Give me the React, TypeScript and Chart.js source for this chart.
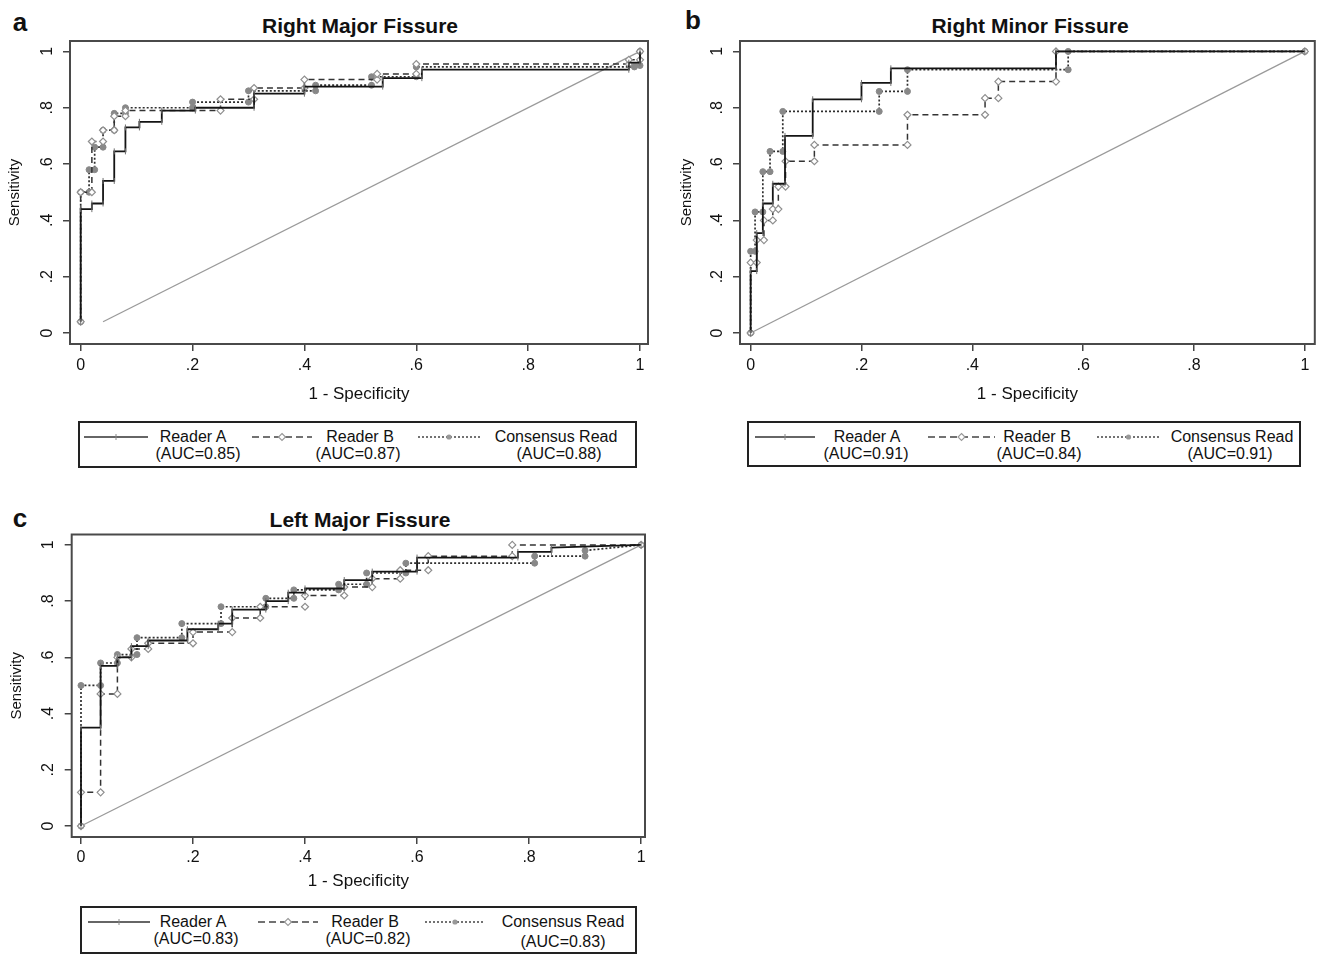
import React, { useEffect, useRef } from "react";
import { Chart, registerables } from "chart.js";

Chart.register(...registerables);

const FONT = '"Liberation Sans", Arial, Helvetica, sans-serif';

// ---------- shared axis data ----------
const tickValues = [0, 0.2, 0.4, 0.6, 0.8, 1];
const tickLabels = ["0", ".2", ".4", ".6", ".8", "1"];
const seriesNames = ["Reader A", "Reader B", "Consensus Read"];
const xAxisTitle = "1 - Specificity";
const yAxisTitle = "Sensitivity";

// ---------- panel a: Right Major Fissure ----------
const aTitle = "Right Major Fissure";
const aAUC = ["0.85", "0.87", "0.88"];
const aReaderAX = [0, 0, 0.02, 0.02, 0.04, 0.04, 0.06, 0.06, 0.08, 0.08, 0.105, 0.105, 0.145, 0.145, 0.205, 0.205, 0.31, 0.31, 0.4, 0.4, 0.54, 0.54, 0.61, 0.61, 0.98, 0.98, 1, 1];
const aReaderAY = [0.04, 0.44, 0.44, 0.46, 0.46, 0.54, 0.54, 0.645, 0.645, 0.73, 0.73, 0.75, 0.75, 0.79, 0.79, 0.8, 0.8, 0.85, 0.85, 0.875, 0.875, 0.905, 0.905, 0.935, 0.935, 0.96, 0.96, 1];
const aReaderBX = [0, 0, 0.02, 0.02, 0.04, 0.04, 0.06, 0.06, 0.08, 0.08, 0.25, 0.25, 0.31, 0.31, 0.4, 0.4, 0.53, 0.53, 0.6, 0.6, 0.98, 0.98, 1, 1];
const aReaderBY = [0.04, 0.5, 0.5, 0.68, 0.68, 0.72, 0.72, 0.77, 0.77, 0.79, 0.79, 0.83, 0.83, 0.87, 0.87, 0.9, 0.9, 0.92, 0.92, 0.955, 0.955, 0.97, 0.97, 1];
const aConsX = [0, 0, 0.015, 0.015, 0.025, 0.025, 0.04, 0.04, 0.06, 0.06, 0.08, 0.08, 0.2, 0.2, 0.3, 0.3, 0.42, 0.42, 0.52, 0.52, 0.6, 0.6, 0.99, 0.99, 1, 1];
const aConsY = [0.04, 0.5, 0.5, 0.58, 0.58, 0.66, 0.66, 0.72, 0.72, 0.78, 0.78, 0.8, 0.8, 0.82, 0.82, 0.86, 0.86, 0.88, 0.88, 0.91, 0.91, 0.945, 0.945, 0.95, 0.95, 1];
const aDiagX = [0.04, 1];
const aDiagY = [0.04, 1];

// ---------- panel b: Right Minor Fissure ----------
const bTitle = "Right Minor Fissure";
const bAUC = ["0.91", "0.84", "0.91"];
const bReaderAX = [0, 0, 0.011, 0.011, 0.022, 0.022, 0.04, 0.04, 0.062, 0.062, 0.112, 0.112, 0.2, 0.2, 0.253, 0.253, 0.551, 0.551, 1];
const bReaderAY = [0, 0.22, 0.22, 0.355, 0.355, 0.46, 0.46, 0.53, 0.53, 0.7, 0.7, 0.83, 0.83, 0.888, 0.888, 0.94, 0.94, 1, 1];
const bReaderBX = [0, 0, 0.011, 0.011, 0.024, 0.024, 0.04, 0.04, 0.05, 0.05, 0.063, 0.063, 0.115, 0.115, 0.283, 0.283, 0.423, 0.423, 0.447, 0.447, 0.551, 0.551, 1];
const bReaderBY = [0, 0.25, 0.25, 0.33, 0.33, 0.4, 0.4, 0.44, 0.44, 0.52, 0.52, 0.61, 0.61, 0.668, 0.668, 0.775, 0.775, 0.834, 0.834, 0.893, 0.893, 1, 1];
const bConsX = [0, 0, 0.008, 0.008, 0.022, 0.022, 0.035, 0.035, 0.058, 0.058, 0.232, 0.232, 0.283, 0.283, 0.573, 0.573, 1];
const bConsY = [0, 0.29, 0.29, 0.43, 0.43, 0.573, 0.573, 0.645, 0.645, 0.787, 0.787, 0.858, 0.858, 0.935, 0.935, 1, 1];
const bDiagX = [0, 1];
const bDiagY = [0, 1];

// ---------- panel c: Left Major Fissure ----------
const cTitle = "Left Major Fissure";
const cAUC = ["0.83", "0.82", "0.83"];
const cReaderAX = [0, 0, 0.035, 0.035, 0.065, 0.065, 0.09, 0.09, 0.12, 0.12, 0.19, 0.19, 0.245, 0.245, 0.27, 0.27, 0.33, 0.33, 0.37, 0.37, 0.4, 0.4, 0.47, 0.47, 0.52, 0.52, 0.6, 0.6, 0.78, 0.78, 0.84, 0.84, 1];
const cReaderAY = [0, 0.35, 0.35, 0.57, 0.57, 0.6, 0.6, 0.64, 0.64, 0.66, 0.66, 0.7, 0.7, 0.72, 0.72, 0.77, 0.77, 0.8, 0.8, 0.83, 0.83, 0.845, 0.845, 0.875, 0.875, 0.905, 0.905, 0.955, 0.955, 0.975, 0.975, 0.99, 1];
const cReaderBX = [0, 0, 0.035, 0.035, 0.065, 0.065, 0.09, 0.09, 0.12, 0.12, 0.2, 0.2, 0.27, 0.27, 0.32, 0.32, 0.4, 0.4, 0.47, 0.47, 0.52, 0.52, 0.57, 0.57, 0.62, 0.62, 0.77, 0.77, 1];
const cReaderBY = [0, 0.12, 0.12, 0.47, 0.47, 0.6, 0.6, 0.63, 0.63, 0.65, 0.65, 0.69, 0.69, 0.74, 0.74, 0.78, 0.78, 0.82, 0.82, 0.85, 0.85, 0.88, 0.88, 0.91, 0.91, 0.96, 0.96, 1, 1];
const cConsX = [0, 0, 0.035, 0.035, 0.065, 0.065, 0.1, 0.1, 0.18, 0.18, 0.25, 0.25, 0.33, 0.33, 0.38, 0.38, 0.46, 0.46, 0.51, 0.51, 0.58, 0.58, 0.81, 0.81, 0.9, 0.9, 1];
const cConsY = [0, 0.5, 0.5, 0.58, 0.58, 0.61, 0.61, 0.67, 0.67, 0.72, 0.72, 0.78, 0.78, 0.81, 0.81, 0.84, 0.84, 0.86, 0.86, 0.9, 0.9, 0.935, 0.935, 0.96, 0.96, 0.98, 1];
const cDiagX = [0, 1];
const cDiagY = [0, 1];

const pts = (xs: number[], ys: number[]) => xs.map((x, i) => ({ x, y: ys[i] }));

const frameAndLabels = {
  id: "frameAndLabels",
  afterDraw(chart: any) {
    const { ctx, chartArea } = chart;
    const opts = chart.options.plugins.frameAndLabels || {};
    const ys = chart.scales.y;
    ctx.save();
    ctx.strokeStyle = "#4a4a4a";
    ctx.lineWidth = 2;
    ctx.strokeRect(chartArea.left, chartArea.top, chartArea.right - chartArea.left, chartArea.bottom - chartArea.top);
    ctx.fillStyle = "#111";
    ctx.font = `16px ${FONT}`;
    ctx.textAlign = "center";
    ctx.textBaseline = "middle";
    ys.ticks.forEach((t: any, i: number) => {
      const py = ys.getPixelForValue(t.value);
      ctx.save();
      ctx.translate(chartArea.left - (opts.labelOffset || 22), py);
      ctx.rotate(-Math.PI / 2);
      ctx.fillText(tickLabels[i], 0, 0);
      ctx.restore();
    });
    ctx.restore();
  },
};

type RocProps = {
  left: number; top: number; width: number; height: number;
  padTop: number; padRight: number; yAxisWidth: number; xAxisHeight: number;
  xMin: number; xMax: number; yMin: number; yMax: number;
  xTickPad: number; xTitlePad: number; yTitlePad: number; yLabelOffset: number;
  rA: [number[], number[]]; rB: [number[], number[]]; cons: [number[], number[]]; diag: [number[], number[]];
};

function RocChart(p: RocProps) {
  const ref = useRef<HTMLCanvasElement>(null);
  useEffect(() => {
    const chart = new Chart(ref.current as HTMLCanvasElement, {
      type: "scatter",
      data: {
        datasets: [
          {
            label: seriesNames[0],
            data: pts(p.rA[0], p.rA[1]),
            showLine: true,
            borderColor: "#141414",
            borderWidth: 1.8,
            pointStyle: "line",
            pointRotation: 90,
            pointRadius: 3,
            pointBorderColor: "#707070",
            pointBackgroundColor: "#707070",
            pointBorderWidth: 1,
          } as any,
          {
            label: seriesNames[1],
            data: pts(p.rB[0], p.rB[1]),
            showLine: true,
            borderColor: "#333333",
            borderWidth: 1.5,
            borderDash: [6, 4],
            pointStyle: "rectRot",
            pointRadius: 3.5,
            pointBackgroundColor: "#ffffff",
            pointBorderColor: "#8f8f8f",
            pointBorderWidth: 1.2,
          } as any,
          {
            label: seriesNames[2],
            data: pts(p.cons[0], p.cons[1]),
            showLine: true,
            borderColor: "#2e2e2e",
            borderWidth: 1.7,
            borderDash: [2, 2],
            pointStyle: "circle",
            pointRadius: 3,
            pointBackgroundColor: "#888888",
            pointBorderColor: "#888888",
            pointBorderWidth: 1,
          } as any,
          {
            label: "Reference",
            data: pts(p.diag[0], p.diag[1]),
            showLine: true,
            borderColor: "#9a9a9a",
            borderWidth: 1.3,
            pointRadius: 0,
          } as any,
        ],
      },
      options: {
        responsive: false,
        animation: false,
        events: [],
        layout: { padding: { left: 0, top: p.padTop, right: p.padRight, bottom: 0 } },
        plugins: {
          legend: { display: false },
          title: { display: false },
          tooltip: { enabled: false },
          frameAndLabels: { labelOffset: p.yLabelOffset },
        } as any,
        scales: {
          x: {
            type: "linear",
            min: p.xMin,
            max: p.xMax,
            afterBuildTicks: (s: any) => { s.ticks = tickValues.map((v) => ({ value: v })); },
            afterFit: (s: any) => { s.height = p.xAxisHeight; },
            border: { display: false },
            grid: { drawOnChartArea: false, drawTicks: true, tickLength: 7, color: "#444", lineWidth: 1.5 },
            ticks: {
              autoSkip: false,
              maxRotation: 0,
              padding: p.xTickPad,
              color: "#111",
              font: { family: FONT, size: 16 },
              callback: (_v: any, i: number) => tickLabels[i],
            },
            title: {
              display: true,
              text: xAxisTitle,
              color: "#111",
              font: { family: FONT, size: 17 },
              padding: { top: 0, bottom: p.xTitlePad },
            },
          } as any,
          y: {
            type: "linear",
            min: p.yMin,
            max: p.yMax,
            afterBuildTicks: (s: any) => { s.ticks = tickValues.map((v) => ({ value: v })); },
            afterFit: (s: any) => { s.width = p.yAxisWidth; },
            border: { display: false },
            grid: { drawOnChartArea: false, drawTicks: true, tickLength: 7, color: "#444", lineWidth: 1.5 },
            ticks: { display: false },
            title: {
              display: true,
              text: yAxisTitle,
              color: "#111",
              font: { family: FONT, size: 15 },
              padding: { top: p.yTitlePad, bottom: 0 },
            },
          } as any,
        },
      },
      plugins: [frameAndLabels as any],
    });
    return () => chart.destroy();
  }, []);
  return (
    <canvas
      ref={ref}
      width={p.width}
      height={p.height}
      style={{ position: "absolute", left: p.left, top: p.top, width: p.width, height: p.height }}
    />
  );
}

type LegendCol = { s: [number, number]; t: number; a: number; ay?: number };

function LegendBox({ left, top, width, height, aucs, cols }: { left: number; top: number; width: number; height: number; aucs: string[]; cols: LegendCol[] }) {
  const r1 = 16;
  const r2 = 33;
  return (
    <div style={{ position: "absolute", left, top, width, height, border: "2px solid #222", boxSizing: "border-box", background: "#fff" }}>
      <svg width={width} height={height} style={{ position: "absolute", left: -2, top: -2 }}>
        {cols.map((c, i) => {
          const [x1, x2] = c.s;
          const mx = (x1 + x2) / 2;
          return (
            <g key={i}>
              <line
                x1={x1} x2={x2} y1={r1} y2={r1}
                stroke={i === 0 ? "#333" : "#444"}
                strokeWidth={1.3}
                strokeDasharray={i === 0 ? undefined : i === 1 ? "7 4" : "2 2"}
              />
              {i === 0 && <line x1={mx} x2={mx} y1={r1 - 3} y2={r1 + 3} stroke="#888" strokeWidth={1} />}
              {i === 1 && <polygon points={`${mx},${r1 - 3.5} ${mx + 3.5},${r1} ${mx},${r1 + 3.5} ${mx - 3.5},${r1}`} fill="#fff" stroke="#999" strokeWidth={1.1} />}
              {i === 2 && <circle cx={mx} cy={r1} r={2.6} fill="#999" />}
            </g>
          );
        })}
      </svg>
      {cols.map((c, i) => (
        <React.Fragment key={i}>
          <div style={{ position: "absolute", left: c.t - 102, width: 200, top: r1 - 11, textAlign: "center", fontSize: 16, lineHeight: "18px", color: "#111", whiteSpace: "nowrap" }}>
            {seriesNames[i]}
          </div>
          <div style={{ position: "absolute", left: c.a - 102, width: 200, top: r2 + (c.ay || 0) - 11, textAlign: "center", fontSize: 16, lineHeight: "18px", color: "#111", whiteSpace: "nowrap" }}>
            {`(AUC=${aucs[i]})`}
          </div>
        </React.Fragment>
      ))}
    </div>
  );
}

function Label({ x, y, text, size, bold }: { x: number; y: number; text: string; size: number; bold?: boolean }) {
  return (
    <div
      style={{
        position: "absolute", left: x, top: y, transform: "translate(-50%, -50%)",
        fontSize: size, lineHeight: 1, fontWeight: bold ? 700 : 400, whiteSpace: "nowrap", color: "#111",
      }}
    >
      {text}
    </div>
  );
}

export default function App() {
  return (
    <div style={{ position: "absolute", left: 0, top: 0, width: 1321, height: 955, background: "#fff", overflow: "hidden", fontFamily: FONT }}>
      <Label x={20} y={22} text="a" size={26} bold />
      <Label x={693} y={20} text="b" size={26} bold />
      <Label x={20} y={518} text="c" size={26} bold />
      <Label x={360} y={25} text={aTitle} size={21} bold />
      <Label x={1030} y={25} text={bTitle} size={21} bold />
      <Label x={360} y={519} text={cTitle} size={21} bold />

      <RocChart
        left={0} top={0} width={660} height={410}
        padTop={41} padRight={12} yAxisWidth={70} xAxisHeight={66}
        xMin={-0.0191} xMax={1.0143} yMin={-0.039} yMax={1.037}
        xTickPad={5} xTitlePad={5} yTitlePad={6} yLabelOffset={22.5}
        rA={[aReaderAX, aReaderAY]} rB={[aReaderBX, aReaderBY]} cons={[aConsX, aConsY]} diag={[aDiagX, aDiagY]}
      />
      <RocChart
        left={668} top={0} width={652} height={410}
        padTop={41} padRight={2} yAxisWidth={72} xAxisHeight={66}
        xMin={-0.0192} xMax={1.018} yMin={-0.039} yMax={1.037}
        xTickPad={5} xTitlePad={5} yTitlePad={10} yLabelOffset={22}
        rA={[bReaderAX, bReaderAY]} rB={[bReaderBX, bReaderBY]} cons={[bConsX, bConsY]} diag={[bDiagX, bDiagY]}
      />
      <RocChart
        left={0} top={494} width={660} height={400}
        padTop={40.5} padRight={15} yAxisWidth={71.7} xAxisHeight={57}
        xMin={-0.0166} xMax={1.007} yMin={-0.039} yMax={1.037}
        xTickPad={4} xTitlePad={2} yTitlePad={8} yLabelOffset={23}
        rA={[cReaderAX, cReaderAY]} rB={[cReaderBX, cReaderBY]} cons={[cConsX, cConsY]} diag={[cDiagX, cDiagY]}
      />

      <LegendBox
        left={78} top={421} width={559} height={47} aucs={aAUC}
        cols={[{ s: [6, 70], t: 115, a: 120 }, { s: [174, 234], t: 282, a: 280 }, { s: [340, 402], t: 478, a: 481 }]}
      />
      <LegendBox
        left={747} top={421} width={554} height={46} aucs={bAUC}
        cols={[{ s: [8, 68], t: 120, a: 119 }, { s: [181, 248], t: 290, a: 292 }, { s: [350, 413], t: 485, a: 483 }]}
      />
      <LegendBox
        left={80} top={906} width={557} height={48} aucs={cAUC}
        cols={[{ s: [8, 70], t: 113, a: 116 }, { s: [178, 238], t: 285, a: 288 }, { s: [345, 405], t: 483, a: 483, ay: 3 }]}
      />
    </div>
  );
}
